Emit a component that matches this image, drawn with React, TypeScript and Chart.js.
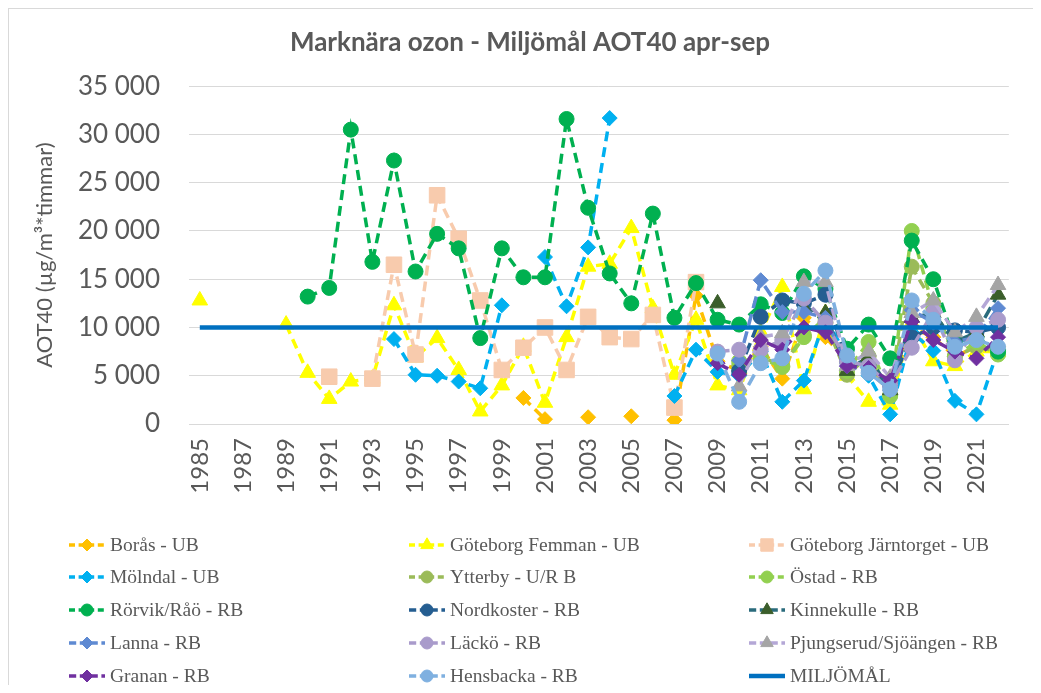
import React, { useEffect, useRef } from 'react';
import { Chart, registerables } from 'chart.js';
import { drawPoint } from 'chart.js/helpers';

Chart.register(...registerables);

const _ = null;

const years = [
  '1985', '1986', '1987', '1988', '1989', '1990', '1991', '1992', '1993', '1994',
  '1995', '1996', '1997', '1998', '1999', '2000', '2001', '2002', '2003', '2004',
  '2005', '2006', '2007', '2008', '2009', '2010', '2011', '2012', '2013', '2014',
  '2015', '2016', '2017', '2018', '2019', '2020', '2021', '2022',
];

const yTicks = [0, 5000, 10000, 15000, 20000, 25000, 30000, 35000];

// 1985-2008 without measurements for the regional stations
const none1985to2008 = [_, _, _, _, _, _, _, _, _, _, _, _, _, _, _, _, _, _, _, _, _, _, _, _];

const boras = [
  _, _, _, _, _, _, _, _, _, _, _, _, _, _, _,
  2700, 500, _, 700, _, 800, _, 400, 13300,
  6500, 5500, 8000, 4700, 11000, 9000, 6500, 5500, 3500, 10000, 9000, 7000, 8000, 8000,
];
const femman = [
  12800, _, _, _, 10300, 5300, 2600, 4400, 4700, 12300, 6900, 8900, 5600, 1300, 4000,
  8000, 2200, 9000, 16300, 16600, 20300, 12000, 5100, 10800,
  4000, 3500, 9500, 14200, 3600, 11500, 5000, 2300, 2000, 10500, 6500, 6000, 7500, 7500,
];
const jarntorget = [
  _, _, _, _, _, _, 4900, _, 4700, 16500, 7200, 23700, 19200, 12800, 5600,
  7900, 10000, 5600, 11100, 9000, 8800, 11300, 1700, 14700,
  _, _, _, _, _, _, _, _, _, _, _, _, _, _,
];
const molndal = [
  _, _, _, _, _, _, _, _, _, 8800, 5100, 5000, 4400, 3700, 12300,
  _, 17300, 12200, 18300, 31700, _, _, 2900, 7700,
  5400, 5000, 7500, 2300, 4500, 11000, 7000, 5000, 1000, 9500, 7600, 2400, 1000, 7700,
];
const ytterby = [...none1985to2008, _, 6000, 7000, 6000, 9200, 10500, 5100, 7000, 3000, 16300, 12500, 7000, 8000, 7500];
const ostad = [...none1985to2008, _, 6500, 6800, 5900, 9000, 11000, 5500, 8500, 2900, 20000, 12000, 7000, 8500, 7200];
const rorvik = [
  _, _, _, _, _, 13200, 14100, 30500, 16800, 27300, 15800, 19700, 18200, 8900, 18200,
  15200, 15200, 31600, 22400, 15600, 12500, 21800, 11000, 14600,
  10800, 10300, 12400, 11500, 15300, 14000, 7800, 10300, 6800, 19000, 15000, 8500, 9000, 7500,
];
const nordkoster = [...none1985to2008, _, 5500, 11100, 12800, 12500, 13400, 6500, 6000, 4000, 9000, 10000, 9700, 9500, 10000];
const kinnekulle = [...none1985to2008, 12500, _, _, _, 12000, 11500, 5500, 7000, 3500, 11000, 11500, 8500, 9500, 13400];
const lanna = [...none1985to2008, _, 6600, 14900, 11600, 11600, 11000, 6000, 5500, 3500, 11800, 10500, 8500, 9000, 12000];
const lacko = [...none1985to2008, 7500, 7700, 7700, 8700, 13000, 10500, 6500, 6000, 4000, 7900, 11600, 6600, 10000, 10800];
const pjungserud = [...none1985to2008, _, 3900, 9000, 9400, 14700, 14700, 6000, 7500, 4800, 11500, 12800, 9500, 11100, 14400];
const granan = [...none1985to2008, 6300, 5100, 8700, 7700, 10000, 9500, 6000, 5800, 4500, 10600, 8700, 7500, 6800, 9000];
const hensbacka = [...none1985to2008, 7300, 2300, 6300, 6800, 13500, 15900, 7100, 5300, 3600, 12800, 10800, 8000, 8700, 8000];
const miljomal = [
  10000, 10000, 10000, 10000, 10000, 10000, 10000, 10000, 10000, 10000,
  10000, 10000, 10000, 10000, 10000, 10000, 10000, 10000, 10000, 10000,
  10000, 10000, 10000, 10000, 10000, 10000, 10000, 10000, 10000, 10000,
  10000, 10000, 10000, 10000, 10000, 10000, 10000, 10000,
];

type S = {
  label: string; data: (number | null)[]; line: string; marker: string;
  style: string; r: number; dash: number[]; width?: number;
};

const seriesDefs: S[] = [
  { label: 'Borås - UB', data: boras, line: '#FFC000', marker: '#FFC000', style: 'rectRot', r: 7.5, dash: [10, 6] },
  { label: 'Göteborg Femman - UB', data: femman, line: '#FFFF00', marker: '#FFFF00', style: 'triangle', r: 9, dash: [10, 6] },
  { label: 'Göteborg Järntorget - UB', data: jarntorget, line: '#F8CBAD', marker: '#F8CBAD', style: 'rect', r: 11, dash: [10, 6] },
  { label: 'Mölndal - UB', data: molndal, line: '#00B0F0', marker: '#00B0F0', style: 'rectRot', r: 7.5, dash: [10, 6] },
  { label: 'Ytterby - U/R B', data: ytterby, line: '#9BBB59', marker: '#9BBB59', style: 'circle', r: 7.5, dash: [10, 6] },
  { label: 'Östad - RB', data: ostad, line: '#92D050', marker: '#92D050', style: 'circle', r: 7.5, dash: [10, 6] },
  { label: 'Rörvik/Råö - RB', data: rorvik, line: '#00B050', marker: '#00B050', style: 'circle', r: 7.5, dash: [10, 6] },
  { label: 'Nordkoster - RB', data: nordkoster, line: '#255E91', marker: '#255E91', style: 'circle', r: 7.5, dash: [12, 6] },
  { label: 'Kinnekulle - RB', data: kinnekulle, line: '#2A6B7C', marker: '#3B5E2B', style: 'triangle', r: 9, dash: [12, 6] },
  { label: 'Lanna - RB', data: lanna, line: '#5F8AD2', marker: '#5F8AD2', style: 'rectRot', r: 7.5, dash: [12, 6] },
  { label: 'Läckö - RB', data: lacko, line: '#A99BCB', marker: '#A99BCB', style: 'circle', r: 7.5, dash: [12, 6] },
  { label: 'Pjungserud/Sjöängen - RB', data: pjungserud, line: '#B4A7D6', marker: '#A5A5A5', style: 'triangle', r: 9, dash: [12, 6] },
  { label: 'Granan - RB', data: granan, line: '#7030A0', marker: '#7030A0', style: 'rectRot', r: 7.5, dash: [12, 6] },
  { label: 'Hensbacka - RB', data: hensbacka, line: '#7FB0E0', marker: '#7FB0E0', style: 'circle', r: 7.5, dash: [12, 6] },
  { label: 'MILJÖMÅL', data: miljomal, line: '#0070C0', marker: '#0070C0', style: 'none', r: 0, dash: [], width: 4.5 },
];

const LEG_X = [78, 418, 758];
const LEG_Y = [536, 568, 601, 634, 667];

const gridLegend = {
  id: 'gridLegend',
  afterDraw(chart: any) {
    const ctx: CanvasRenderingContext2D = chart.ctx;
    seriesDefs.forEach((s, i) => {
      const x = LEG_X[i % 3];
      const y = LEG_Y[Math.floor(i / 3)];
      ctx.save();
      ctx.strokeStyle = s.line;
      ctx.lineWidth = s.width || 3.5;
      ctx.setLineDash(s.dash.map((d) => d * 0.6));
      ctx.beginPath();
      ctx.moveTo(x - 18, y);
      ctx.lineTo(x + 18, y);
      ctx.stroke();
      ctx.setLineDash([]);
      if (s.style !== 'none') {
        ctx.fillStyle = s.marker;
        ctx.strokeStyle = s.marker;
        ctx.lineWidth = 1;
        drawPoint(ctx, { pointStyle: s.style as any, radius: s.r * 0.8, borderWidth: 1, rotation: 0 }, x, y);
      }
      ctx.fillStyle = '#595959';
      ctx.font = '19.5px "Liberation Serif"';
      ctx.textBaseline = 'middle';
      ctx.textAlign = 'left';
      ctx.fillText(s.label, x + 23, y + 1);
      ctx.restore();
    });
  },
};

export default function App() {
  const ref = useRef<HTMLCanvasElement | null>(null);

  useEffect(() => {
    if (!ref.current) return;
    const n = seriesDefs.length;
    const chart = new Chart(ref.current, {
      type: 'line',
      data: {
        labels: years,
        datasets: seriesDefs.map((s, i) => ({
          label: s.label,
          data: s.data,
          borderColor: s.line,
          backgroundColor: s.marker,
          borderWidth: s.width || 3.5,
          borderDash: s.dash,
          pointStyle: s.style === 'none' ? false : (s.style as any),
          pointRadius: s.r,
          pointHoverRadius: s.r,
          pointBackgroundColor: s.marker,
          pointBorderColor: s.marker,
          pointBorderWidth: 1,
          tension: 0,
          spanGaps: false,
          fill: false,
          order: n - i,
        })),
      },
      options: {
        responsive: false,
        animation: false,
        layout: { padding: { left: 10, right: 0, top: 0, bottom: 171 } },
        plugins: {
          legend: { display: false },
          tooltip: { enabled: false },
          title: {
            display: true,
            text: 'Marknära ozon - Miljömål AOT40 apr-sep',
            color: '#595959',
            font: { family: 'Lato', size: 26, weight: 'bold' },
            padding: { top: 18, bottom: 28 },
          },
        },
        scales: {
          x: {
            offset: true,
            grid: { display: false, drawTicks: false },
            border: { display: true, color: '#D9D9D9', width: 1 },
            ticks: {
              autoSkip: false,
              minRotation: 90,
              maxRotation: 90,
              padding: 14,
              color: '#595959',
              font: { family: 'Lato', size: 24 },
              callback: (_v: any, i: number) => (i % 2 === 0 ? years[i] : ''),
            },
            afterFit: (s: any) => { s.height = 90; },
          },
          y: {
            min: yTicks[0],
            max: yTicks[yTicks.length - 1],
            afterBuildTicks: (s: any) => { s.ticks = yTicks.map((v) => ({ value: v })); },
            grid: { color: '#D9D9D9', lineWidth: 1, drawTicks: false },
            border: { display: false },
            ticks: {
              padding: 29,
              color: '#595959',
              font: { family: 'Lato', size: 26 },
              callback: (v: any) => (v === 0 ? '0' : `${Math.round(v / 1000)} 000`),
            },
            title: {
              display: true,
              text: 'AOT40 (µg/m³*timmar)',
              color: '#595959',
              font: { family: 'Lato', size: 22 },
              padding: { top: 13, bottom: 0 },
            },
            afterFit: (s: any) => { s.width = 170; },
          },
        },
      },
      plugins: [gridLegend],
    });
    return () => chart.destroy();
  }, []);

  return (
    <div style={{ width: 1033, height: 677, boxSizing: 'border-box', borderTop: '1px solid #D9D9D9', borderLeft: '1px solid #D9D9D9', background: '#fff' }}>
      <canvas ref={ref} width={1032} height={676} style={{ display: 'block' }} />
    </div>
  );
}
